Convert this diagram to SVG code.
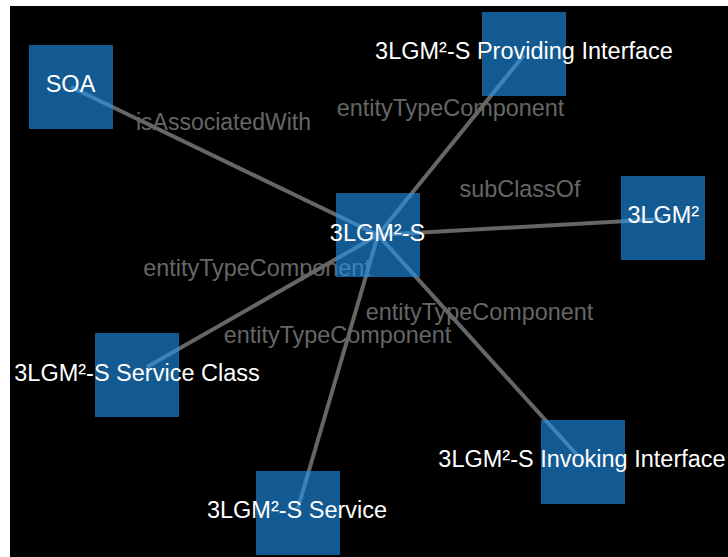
<svg xmlns="http://www.w3.org/2000/svg" width="728" height="557" viewBox="0 0 728 557">
<style>
.edge{stroke:#666;stroke-width:4;fill:none}
.elabel{fill:#666;font-family:"Liberation Sans",Arial,sans-serif;font-size:23.4px;text-anchor:middle}
.box{fill:#2196F3;fill-opacity:0.6}
.nlabel{fill:#fff;font-family:"Liberation Sans",Arial,sans-serif;font-size:23.5px;text-anchor:middle}
</style>
<rect x="0" y="0" width="728" height="557" fill="#fff"/>
<rect x="10" y="6" width="718" height="551" fill="#000"/>
<g id="connectors">
<line class="edge" x1="378" y1="235" x2="71" y2="87"/>
<line class="edge" x1="378" y1="235" x2="524" y2="55"/>
<line class="edge" x1="378" y1="235" x2="663" y2="219"/>
<line class="edge" x1="378" y1="235" x2="147" y2="367"/>
<line class="edge" x1="378" y1="235" x2="577" y2="455"/>
<line class="edge" x1="378" y1="235" x2="298" y2="508"/>
<text class="elabel" x="223.5" y="130" style="font-size:23px">isAssociatedWith</text>
<text class="elabel" x="450.5" y="116">entityTypeComponent</text>
<text class="elabel" x="520" y="197">subClassOf</text>
<text class="elabel" x="257" y="276">entityTypeComponent</text>
<text class="elabel" x="479.5" y="320">entityTypeComponent</text>
<text class="elabel" x="337.5" y="343">entityTypeComponent</text>
</g>
<g id="node-soa"><rect class="box" x="29" y="45" width="84" height="84"/><text class="nlabel" x="70.5" y="92">SOA</text></g>
<g id="node-providing"><rect class="box" x="482" y="12" width="84" height="84"/><text class="nlabel" x="524" y="59">3LGM²-S Providing Interface</text></g>
<g id="node-center"><rect class="box" x="336" y="193" width="84" height="84"/><text class="nlabel" x="377.5" y="241">3LGM²-S</text></g>
<g id="node-3lgm2"><rect class="box" x="621" y="176" width="84" height="84"/><text class="nlabel" x="663.3" y="223">3LGM²</text></g>
<g id="node-serviceclass"><rect class="box" x="95" y="333" width="84" height="84"/><text class="nlabel" x="137" y="380.5">3LGM²-S Service Class</text></g>
<g id="node-invoking"><rect class="box" x="541" y="420" width="84" height="84"/><text class="nlabel" x="582" y="467">3LGM²-S Invoking Interface</text></g>
<g id="node-service"><rect class="box" x="256" y="471" width="84" height="84"/><text class="nlabel" x="297" y="517.5">3LGM²-S Service</text></g>
</svg>
